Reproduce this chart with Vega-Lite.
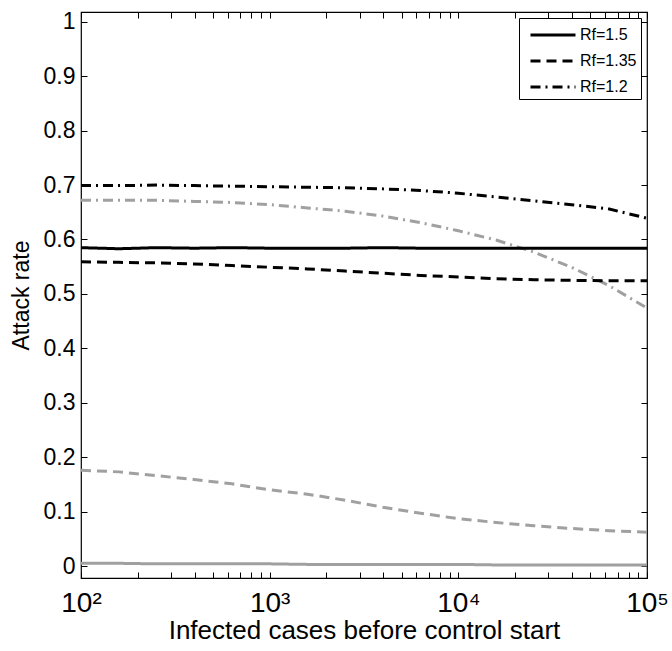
{
  "$schema": "https://vega.github.io/schema/vega-lite/v6.json",
  "autosize": {"type": "none"},
  "width": 566,
  "height": 566,
  "padding": {"left": 81, "top": 12, "right": 25, "bottom": 73},
  "background": "white",
  "config": {
    "font": "Liberation Sans",
    "view": {"stroke": "#000", "strokeWidth": 1.2},
    "axis": {"grid": false, "domain": false, "tickColor": "#000", "labelColor": "#000", "titleColor": "#000", "labelFont": "Liberation Sans", "titleFont": "Liberation Sans", "titleFontWeight": "normal"},
    "legend": {"labelFont": "Liberation Sans"}
  },
  "datasets": {
    "series": [
      {"x": 100, "rf": "1.5", "shade": "gray", "v": 0.005},
      {"x": 158.5, "rf": "1.5", "shade": "gray", "v": 0.005},
      {"x": 251.2, "rf": "1.5", "shade": "gray", "v": 0.004},
      {"x": 398.1, "rf": "1.5", "shade": "gray", "v": 0.004},
      {"x": 631, "rf": "1.5", "shade": "gray", "v": 0.004},
      {"x": 1000, "rf": "1.5", "shade": "gray", "v": 0.004},
      {"x": 1585, "rf": "1.5", "shade": "gray", "v": 0.003},
      {"x": 2512, "rf": "1.5", "shade": "gray", "v": 0.003},
      {"x": 3981, "rf": "1.5", "shade": "gray", "v": 0.003},
      {"x": 6310, "rf": "1.5", "shade": "gray", "v": 0.003},
      {"x": 10000, "rf": "1.5", "shade": "gray", "v": 0.003},
      {"x": 15850, "rf": "1.5", "shade": "gray", "v": 0.002},
      {"x": 25120, "rf": "1.5", "shade": "gray", "v": 0.002},
      {"x": 39810, "rf": "1.5", "shade": "gray", "v": 0.002},
      {"x": 63100, "rf": "1.5", "shade": "gray", "v": 0.002},
      {"x": 100000, "rf": "1.5", "shade": "gray", "v": 0.002},

      {"x": 100, "rf": "1.35", "shade": "gray", "v": 0.176},
      {"x": 158.5, "rf": "1.35", "shade": "gray", "v": 0.173},
      {"x": 251.2, "rf": "1.35", "shade": "gray", "v": 0.166},
      {"x": 398.1, "rf": "1.35", "shade": "gray", "v": 0.159},
      {"x": 631, "rf": "1.35", "shade": "gray", "v": 0.151},
      {"x": 1000, "rf": "1.35", "shade": "gray", "v": 0.140},
      {"x": 1585, "rf": "1.35", "shade": "gray", "v": 0.132},
      {"x": 2512, "rf": "1.35", "shade": "gray", "v": 0.121},
      {"x": 3981, "rf": "1.35", "shade": "gray", "v": 0.108},
      {"x": 6310, "rf": "1.35", "shade": "gray", "v": 0.097},
      {"x": 10000, "rf": "1.35", "shade": "gray", "v": 0.087},
      {"x": 15850, "rf": "1.35", "shade": "gray", "v": 0.080},
      {"x": 25120, "rf": "1.35", "shade": "gray", "v": 0.074},
      {"x": 39810, "rf": "1.35", "shade": "gray", "v": 0.069},
      {"x": 63100, "rf": "1.35", "shade": "gray", "v": 0.065},
      {"x": 100000, "rf": "1.35", "shade": "gray", "v": 0.062},

      {"x": 100, "rf": "1.2", "shade": "gray", "v": 0.672},
      {"x": 158.5, "rf": "1.2", "shade": "gray", "v": 0.672},
      {"x": 251.2, "rf": "1.2", "shade": "gray", "v": 0.672},
      {"x": 398.1, "rf": "1.2", "shade": "gray", "v": 0.670},
      {"x": 631, "rf": "1.2", "shade": "gray", "v": 0.668},
      {"x": 1000, "rf": "1.2", "shade": "gray", "v": 0.664},
      {"x": 1585, "rf": "1.2", "shade": "gray", "v": 0.658},
      {"x": 2512, "rf": "1.2", "shade": "gray", "v": 0.652},
      {"x": 3981, "rf": "1.2", "shade": "gray", "v": 0.643},
      {"x": 6310, "rf": "1.2", "shade": "gray", "v": 0.631},
      {"x": 10000, "rf": "1.2", "shade": "gray", "v": 0.616},
      {"x": 15850, "rf": "1.2", "shade": "gray", "v": 0.599},
      {"x": 25120, "rf": "1.2", "shade": "gray", "v": 0.577},
      {"x": 39810, "rf": "1.2", "shade": "gray", "v": 0.549},
      {"x": 63100, "rf": "1.2", "shade": "gray", "v": 0.515},
      {"x": 100000, "rf": "1.2", "shade": "gray", "v": 0.474},

      {"x": 100, "rf": "1.5", "shade": "black", "v": 0.585},
      {"x": 158.5, "rf": "1.5", "shade": "black", "v": 0.583},
      {"x": 251.2, "rf": "1.5", "shade": "black", "v": 0.585},
      {"x": 398.1, "rf": "1.5", "shade": "black", "v": 0.584},
      {"x": 631, "rf": "1.5", "shade": "black", "v": 0.585},
      {"x": 1000, "rf": "1.5", "shade": "black", "v": 0.584},
      {"x": 1585, "rf": "1.5", "shade": "black", "v": 0.584},
      {"x": 2512, "rf": "1.5", "shade": "black", "v": 0.584},
      {"x": 3981, "rf": "1.5", "shade": "black", "v": 0.585},
      {"x": 6310, "rf": "1.5", "shade": "black", "v": 0.584},
      {"x": 10000, "rf": "1.5", "shade": "black", "v": 0.584},
      {"x": 15850, "rf": "1.5", "shade": "black", "v": 0.584},
      {"x": 25120, "rf": "1.5", "shade": "black", "v": 0.584},
      {"x": 39810, "rf": "1.5", "shade": "black", "v": 0.584},
      {"x": 63100, "rf": "1.5", "shade": "black", "v": 0.584},
      {"x": 100000, "rf": "1.5", "shade": "black", "v": 0.584},

      {"x": 100, "rf": "1.35", "shade": "black", "v": 0.559},
      {"x": 158.5, "rf": "1.35", "shade": "black", "v": 0.558},
      {"x": 251.2, "rf": "1.35", "shade": "black", "v": 0.557},
      {"x": 398.1, "rf": "1.35", "shade": "black", "v": 0.555},
      {"x": 631, "rf": "1.35", "shade": "black", "v": 0.552},
      {"x": 1000, "rf": "1.35", "shade": "black", "v": 0.549},
      {"x": 1585, "rf": "1.35", "shade": "black", "v": 0.546},
      {"x": 2512, "rf": "1.35", "shade": "black", "v": 0.542},
      {"x": 3981, "rf": "1.35", "shade": "black", "v": 0.538},
      {"x": 6310, "rf": "1.35", "shade": "black", "v": 0.534},
      {"x": 10000, "rf": "1.35", "shade": "black", "v": 0.531},
      {"x": 15850, "rf": "1.35", "shade": "black", "v": 0.528},
      {"x": 25120, "rf": "1.35", "shade": "black", "v": 0.526},
      {"x": 39810, "rf": "1.35", "shade": "black", "v": 0.525},
      {"x": 63100, "rf": "1.35", "shade": "black", "v": 0.524},
      {"x": 100000, "rf": "1.35", "shade": "black", "v": 0.524},

      {"x": 100, "rf": "1.2", "shade": "black", "v": 0.699},
      {"x": 158.5, "rf": "1.2", "shade": "black", "v": 0.699},
      {"x": 251.2, "rf": "1.2", "shade": "black", "v": 0.700},
      {"x": 398.1, "rf": "1.2", "shade": "black", "v": 0.699},
      {"x": 631, "rf": "1.2", "shade": "black", "v": 0.698},
      {"x": 1000, "rf": "1.2", "shade": "black", "v": 0.697},
      {"x": 1585, "rf": "1.2", "shade": "black", "v": 0.696},
      {"x": 2512, "rf": "1.2", "shade": "black", "v": 0.695},
      {"x": 3981, "rf": "1.2", "shade": "black", "v": 0.693},
      {"x": 6310, "rf": "1.2", "shade": "black", "v": 0.690},
      {"x": 10000, "rf": "1.2", "shade": "black", "v": 0.685},
      {"x": 15850, "rf": "1.2", "shade": "black", "v": 0.678},
      {"x": 25120, "rf": "1.2", "shade": "black", "v": 0.671},
      {"x": 39810, "rf": "1.2", "shade": "black", "v": 0.664},
      {"x": 63100, "rf": "1.2", "shade": "black", "v": 0.656},
      {"x": 100000, "rf": "1.2", "shade": "black", "v": 0.639}
    ]
  },
  "data": {"name": "series"},
  "resolve": {"axis": {"x": "independent", "y": "independent"}},
  "layer": [
    {
      "transform": [{"filter": "datum.shade == 'gray'"}],
      "mark": {"type": "line", "strokeWidth": 3, "color": "#a0a0a0", "clip": true},
      "encoding": {
        "x": {"field": "x", "type": "quantitative",
          "scale": {"type": "log", "domain": [100, 100000], "nice": false},
          "axis": {"orient": "bottom", "title": "Infected cases before control start",
            "values": [100,200,300,400,500,600,700,800,900,1000,2000,3000,4000,5000,6000,7000,8000,9000,10000,20000,30000,40000,50000,60000,70000,80000,90000,100000],
            "labelExpr": "datum.value == 100 ? '10²' : datum.value == 1000 ? '10³' : datum.value == 10000 ? '10⁴' : datum.value == 100000 ? '10⁵' : ''",
            "labelOverlap": false, "labelFontSize": 28, "labelPadding": 17, "tickSize": -6, "tickWidth": 1,
            "titleFontSize": 26, "titlePadding": 0, "labelFlush": false}},
        "y": {"field": "v", "type": "quantitative",
          "scale": {"domain": [-0.022, 1.018], "nice": false, "zero": false},
          "axis": {"orient": "left", "title": "Attack rate", "values": [0,0.1,0.2,0.3,0.4,0.5,0.6,0.7,0.8,0.9,1],
            "format": "~g", "labelFontSize": 23, "labelPadding": 12, "tickSize": -6, "titleFontSize": 23, "titlePadding": 10}},
        "strokeDash": {"field": "rf", "type": "nominal",
          "scale": {"domain": ["1.5", "1.35", "1.2"], "range": [[1, 0], [10, 6], [10, 5, 2, 5]]},
          "legend": {"title": null, "orient": "top-right", "offset": 6, "labelExpr": "'Rf=' + datum.label",
            "symbolType": "M-2,0L2,0", "symbolSize": 506, "symbolStrokeWidth": 3, "symbolStrokeColor": "#000", "symbolFillColor": "transparent",
            "symbolOffset": 17, "labelOffset": 14,
            "labelFontSize": 16, "labelColor": "#000", "strokeColor": "#000", "fillColor": "#fff", "padding": 4, "rowPadding": 5}},
        "detail": {"field": "rf"}
      }
    },
    {
      "transform": [{"filter": "datum.shade == 'black'"}],
      "mark": {"type": "line", "strokeWidth": 3, "color": "#000", "clip": true},
      "encoding": {
        "x": {"field": "x", "type": "quantitative", "axis": null},
        "y": {"field": "v", "type": "quantitative", "axis": null},
        "strokeDash": {"field": "rf", "type": "nominal"},
        "detail": {"field": "rf"}
      }
    },
    {
      "mark": {"type": "line", "opacity": 0},
      "encoding": {
        "x": {"field": "x", "type": "quantitative",
          "axis": {"orient": "top", "title": null, "labels": false, "tickSize": -6,
            "values": [100,200,300,400,500,600,700,800,900,1000,2000,3000,4000,5000,6000,7000,8000,9000,10000,20000,30000,40000,50000,60000,70000,80000,90000,100000]}},
        "y": {"field": "v", "type": "quantitative",
          "axis": {"orient": "right", "title": null, "labels": false, "tickSize": -6, "values": [0,0.1,0.2,0.3,0.4,0.5,0.6,0.7,0.8,0.9,1]}},
        "detail": {"field": "rf"}
      }
    }
  ]
}
